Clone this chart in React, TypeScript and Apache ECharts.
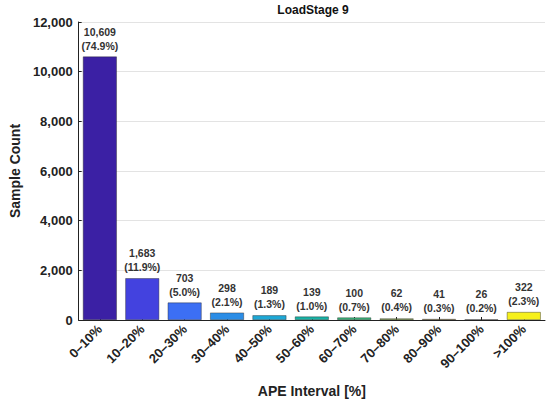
import React, { useEffect, useRef } from "react";
import * as echarts from "echarts";

const categories = ["0–10%", "10–20%", "20–30%", "30–40%", "40–50%", "50–60%", "60–70%", "70–80%", "80–90%", "90–100%", ">100%"];
const counts = [10609, 1683, 703, 298, 189, 139, 100, 62, 41, 26, 322];
const percents = ["74.9%", "11.9%", "5.0%", "2.1%", "1.3%", "1.0%", "0.7%", "0.4%", "0.3%", "0.2%", "2.3%"];
const barColors = ["#3b20a4", "#4342df", "#3c6ff4", "#2b8de6", "#1ea8d6", "#17b3a6", "#36b67a", "#88a84a", "#c2a24e", "#d6ad5c", "#f6f01c"];
const yTicks = [0, 2000, 4000, 6000, 8000, 10000, 12000];

export default function App() {
  const ref = useRef<HTMLDivElement>(null);
  useEffect(() => {
    if (!ref.current) return;
    const chart = echarts.init(ref.current, null, { renderer: "svg" });
    const font = "Liberation Sans, Arial, sans-serif";
    chart.setOption({
      animation: false,
      title: {
        text: "LoadStage 9",
        left: 308,
        top: -1,
        textAlign: "center",
        textStyle: { fontSize: 12, fontWeight: "bold", color: "#111", fontFamily: font },
      },
      grid: { left: 70, right: 5, top: 22, bottom: 81, containLabel: false },
      xAxis: {
        type: "category",
        data: categories,
        name: "APE Interval [%]",
        nameLocation: "middle",
        nameGap: 64,
        nameTextStyle: { fontSize: 14, fontWeight: "bold", color: "#222", fontFamily: font },
        axisLine: { lineStyle: { color: "#222", width: 1 } },
        axisTick: { show: true, inside: true, alignWithLabel: true, length: 3, lineStyle: { color: "#222" } },
        axisLabel: { rotate: 45, fontSize: 13, fontWeight: "bold", color: "#222", fontFamily: font, margin: 7, interval: 0 },
      },
      yAxis: {
        type: "value",
        min: yTicks[0],
        max: yTicks[yTicks.length - 1],
        interval: 2000,
        name: "Sample Count",
        nameLocation: "middle",
        nameGap: 53,
        nameTextStyle: { fontSize: 14, fontWeight: "bold", color: "#222", fontFamily: font },
        axisLine: { show: true, lineStyle: { color: "#222", width: 1 } },
        axisTick: { show: true, inside: true, length: 3, lineStyle: { color: "#222" } },
        axisLabel: {
          fontSize: 13,
          fontWeight: "bold",
          color: "#222",
          fontFamily: font,
          margin: 6,
          formatter: (v: number) => v.toLocaleString("en-US"),
        },
        splitLine: { show: true, lineStyle: { color: "#e3e3e3", width: 1 } },
      },
      series: [
        {
          type: "bar",
          barWidth: "80%",
          data: counts.map((v, i) => ({
            value: v,
            itemStyle: { color: barColors[i], borderColor: "rgba(40,40,40,0.7)", borderWidth: 0.6 },
          })),
          label: {
            show: true,
            position: "top",
            distance: 4,
            fontSize: 10.5,
            fontWeight: "bold",
            color: "#333",
            fontFamily: font,
            lineHeight: 14,
            formatter: (p: any) => `${counts[p.dataIndex].toLocaleString("en-US")}\n(${percents[p.dataIndex]})`,
          },
        },
      ],
    });
    return () => chart.dispose();
  }, []);
  return <div ref={ref} style={{ width: 550, height: 403, position: "absolute", left: 0, top: 0, background: "#fff" }} />;
}
